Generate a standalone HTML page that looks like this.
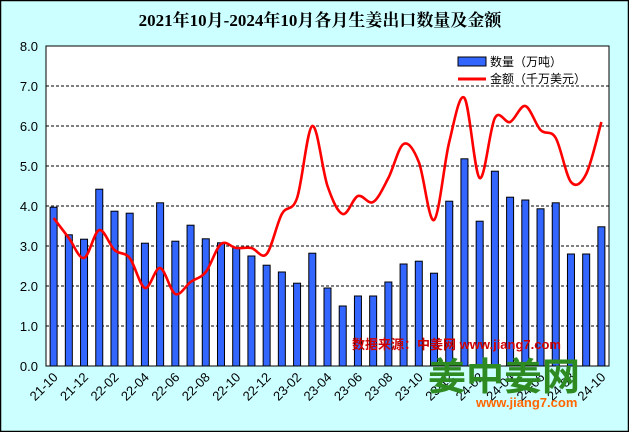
<!DOCTYPE html>
<html><head><meta charset="utf-8"><style>
html,body{margin:0;padding:0;background:#CCFFFF;}
svg{display:block;}
</style></head><body>
<svg id="s" width="629" height="432" xmlns="http://www.w3.org/2000/svg" font-family="Liberation Sans, Noto Sans CJK SC, sans-serif">
<rect x="0.5" y="0.5" width="628" height="431" fill="#CCFFFF" stroke="#000" stroke-width="1.5"/>
<text x="320" y="26" text-anchor="middle" font-family="Liberation Serif, Noto Serif CJK SC, serif" font-size="17" font-weight="bold">2021年10月-2024年10月各月生姜出口数量及金额</text>
<rect x="46" y="46" width="563" height="320" fill="#fff" stroke="#000" stroke-width="1"/>
<g id="grid"></g>
<g id="bars"></g>
<path id="line" fill="none" stroke="#FF0000" stroke-width="2.6"/>
<g id="ylab" font-size="13" text-anchor="end"></g>
<g id="xlab" font-size="13"></g>
<rect x="458" y="57" width="28" height="9" fill="#3366FF" stroke="#000" stroke-width="1"/>
<text x="490" y="66" font-size="12">数量（万吨）</text>
<line x1="458" y1="79" x2="486" y2="79" stroke="#FF0000" stroke-width="3"/>
<text x="490" y="83" font-size="12">金额（千万美元）</text>
<text x="352" y="349" font-size="13" font-weight="bold" fill="#CC0000">数据来源：中姜网 www.jiang7.com</text>
<text x="428" y="390" font-size="38" font-weight="bold" fill="#2E8B22" font-family="Noto Sans CJK SC, sans-serif">姜中姜网</text>
<text x="476" y="407" font-size="13" font-weight="bold" fill="#FF6600">www.jiang7.com</text>
</svg>
<script>
var ns="http://www.w3.org/2000/svg";
function el(p,t,a,txt){var e=document.createElementNS(ns,t);for(var k in a)e.setAttribute(k,a[k]);if(txt!=null)e.textContent=txt;document.getElementById(p).appendChild(e);}
var y0=366,u=40,x0=46,w=563/37;
for(var i=0;i<=8;i++){var y=y0-i*u;
 if(i>0&&i<8)el("grid","line",{x1:46,x2:609,y1:y,y2:y,stroke:"#000","stroke-dasharray":"3,2","stroke-width":1});
 el("ylab","text",{x:38,y:y+5},i.toFixed(1));}
var b=[3.97,3.28,3.17,4.42,3.87,3.82,3.07,4.08,3.12,3.52,3.18,3.08,2.95,2.75,2.52,2.35,2.07,2.82,1.95,1.50,1.75,1.75,2.10,2.55,2.62,2.32,4.12,5.18,3.62,4.87,4.22,4.15,3.93,4.08,2.80,2.80,3.48];
var l=[3.7,3.2,2.7,3.4,2.9,2.7,1.95,2.45,1.8,2.1,2.35,3.05,2.95,2.95,2.8,3.8,4.2,6.0,4.5,3.8,4.25,4.1,4.7,5.55,5.1,3.65,5.6,6.7,4.7,6.2,6.1,6.5,5.9,5.7,4.6,4.8,6.1];
var pts=[];
for(var i=0;i<37;i++){var cx=x0+w*(i+0.5);
 el("bars","rect",{x:cx-3.5,y:y0-b[i]*u,width:7,height:b[i]*u,fill:"#3366FF",stroke:"#000","stroke-width":1});
 pts.push([cx,y0-l[i]*u]);
 if(i%2==0){var m=["21-10","21-12","22-02","22-04","22-06","22-08","22-10","22-12","23-02","23-04","23-06","23-08","23-10","23-12","24-02","24-04","24-06","24-08","24-10"][i/2];
  el("xlab","text",{x:0,y:0,"text-anchor":"end",transform:"translate("+(cx+5)+",378) rotate(-45)"},m);}
}
var d="M"+pts[0][0]+","+pts[0][1];
for(var i=0;i<36;i++){var p0=pts[Math.max(i-1,0)],p1=pts[i],p2=pts[i+1],p3=pts[Math.min(i+2,36)];
 d+=" C"+(p1[0]+(p2[0]-p0[0])/6)+","+(p1[1]+(p2[1]-p0[1])/6)+" "+(p2[0]-(p3[0]-p1[0])/6)+","+(p2[1]-(p3[1]-p1[1])/6)+" "+p2[0]+","+p2[1];}
document.getElementById("line").setAttribute("d",d);
</script>
</body></html>
